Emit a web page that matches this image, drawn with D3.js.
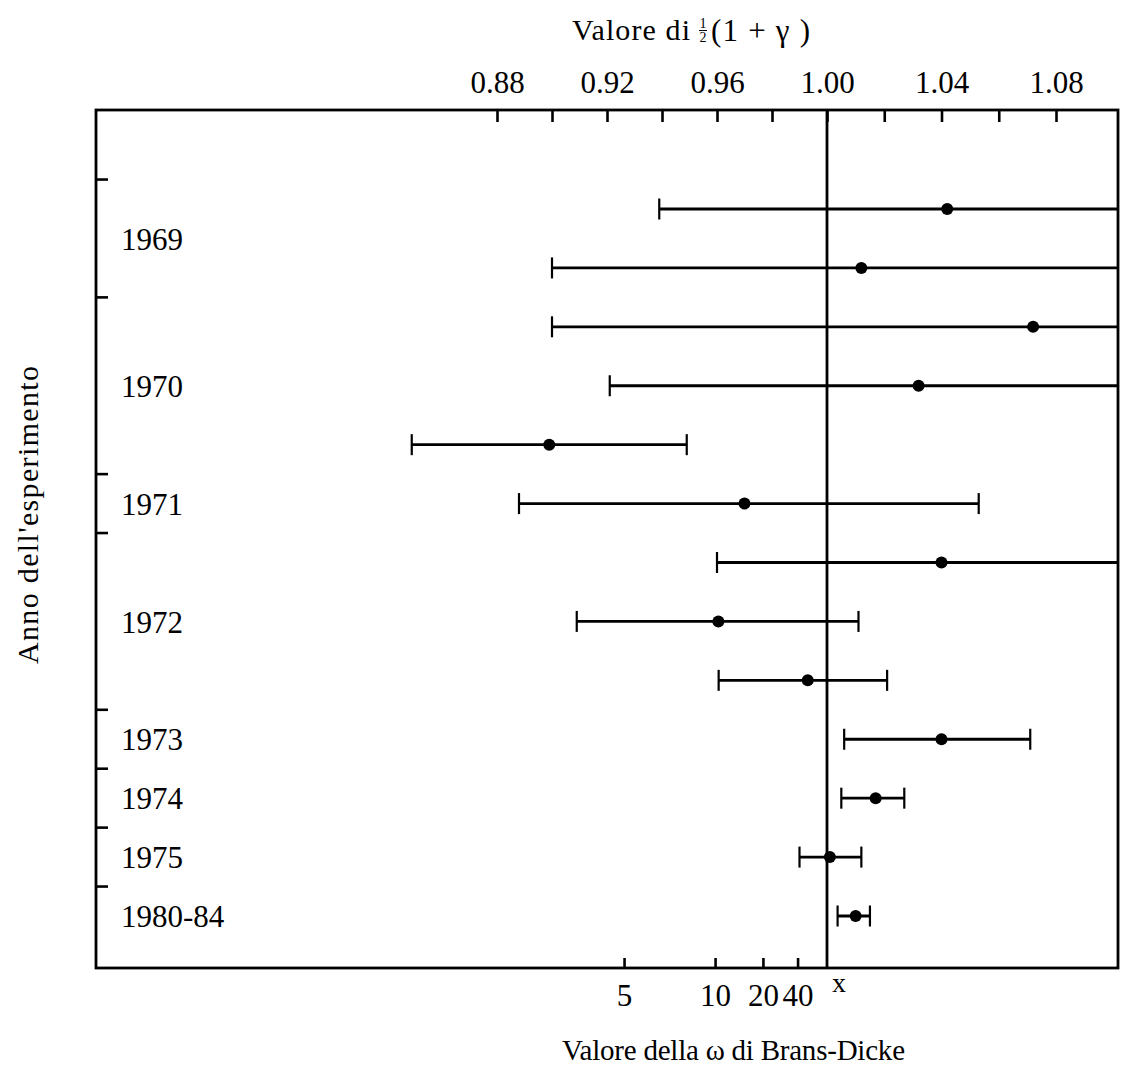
<!DOCTYPE html>
<html>
<head>
<meta charset="utf-8">
<script src="https://cdn.jsdelivr.net/npm/d3@7"></script>
<style>
  body { margin: 0; background: #fff; }
  text { font-family: "Liberation Serif", "DejaVu Serif", serif; fill: #000; }
</style>
</head>
<body>
<div id="chart"></div>
<script>
// Year of each experiment row, top to bottom
const rowYears = ["1969", "1969", "1970", "1970", "1970", "1971", "1972", "1972", "1972", "1973", "1974", "1975", "1980-84"];
// Values of 1/2(1+gamma): central value, lower and upper end (null = runs off the chart)
const centers = [1.042, 1.012, 1.072, 1.032, 0.899, 0.970, 1.040, 0.9605, 0.993, 1.040, 1.017, 1.001, 1.010];
const lows    = [0.939, 0.900, 0.900, 0.921, 0.849, 0.888, 0.960, 0.909, 0.9606, 1.006, 1.005, 0.990, 1.0037];
const highs   = [null, null, null, null, 0.949, 1.053, null, 1.011, 1.021, 1.071, 1.027, 1.012, 1.015];
// Axis ticks
const topTicks = [0.88, 0.90, 0.92, 0.94, 0.96, 0.98, 1.00, 1.02, 1.04, 1.06, 1.08];
const omegaTicks = [5, 10, 20, 40];
// where the omega ticks sit on the 1/2(1+gamma) scale, as printed
const omegaTickAt = [0.9262, 0.9593, 0.9767, 0.9893];

const W = 1124, H = 1081;
const frame = { left: 96, right: 1118, top: 110, bottom: 968 };
const ink = "#000";

const svg = d3.select("#chart").append("svg")
  .attr("width", W)
  .attr("height", H);

// Scales (the printed scale is slightly uneven either side of 1.00)
const x = d3.scaleLinear()
  .domain([0.88, 1.00, 1.08])
  .range([497, 827, 1056]);

const y = d3.scaleLinear()
  .domain([0, rowYears.length - 1])
  .range([209, 916]);

const rows = centers.map((c, i) => ({ i, year: rowYears[i], c, lo: lows[i], hi: highs[i] }));

// Top axis
const topAxis = svg.append("g")
  .attr("transform", `translate(0,${frame.top})`)
  .call(d3.axisTop(x)
    .tickValues(topTicks)
    .tickSize(-12)
    .tickPadding(17)
    .tickFormat(d => Math.round(d * 100) % 4 === 0 ? d.toFixed(2) : ""));
topAxis.select(".domain").remove();
topAxis.selectAll("line").attr("stroke", ink).attr("stroke-width", 2.6);
topAxis.selectAll("text").style("font-size", "31px");

// Bottom axis: Brans-Dicke omega
const bottomAxis = svg.append("g")
  .attr("transform", `translate(0,${frame.bottom})`)
  .call(d3.axisBottom(x)
    .tickValues(omegaTickAt)
    .tickSize(-10)
    .tickPadding(16)
    .tickFormat((d, i) => omegaTicks[i]));
bottomAxis.select(".domain").remove();
bottomAxis.selectAll("line").attr("stroke", ink).attr("stroke-width", 2.6);
bottomAxis.selectAll("text").style("font-size", "31px");

svg.append("text")
  .attr("x", x(1.00) + 12)
  .attr("y", frame.bottom + 24)
  .attr("text-anchor", "middle")
  .style("font-size", "28px")
  .text("x");

// Left axis: year groups
const groups = d3.groups(rows, d => d.year).map(([year, v]) => ({
  year,
  first: d3.min(v, d => d.i),
  last: d3.max(v, d => d.i)
}));
const boundaries = [groups[0].first - 0.5].concat(groups.slice(0, -1).map(g => g.last + 0.5));

svg.append("g")
  .selectAll("line")
  .data(boundaries)
  .enter()
  .append("line")
  .attr("x1", frame.left)
  .attr("x2", frame.left + 12)
  .attr("y1", d => y(d))
  .attr("y2", d => y(d))
  .attr("stroke", ink)
  .attr("stroke-width", 2.6);

svg.append("g")
  .selectAll("text")
  .data(groups)
  .enter()
  .append("text")
  .attr("x", 121)
  .attr("y", d => y((d.first + d.last) / 2) + 4)
  .attr("dominant-baseline", "middle")
  .style("font-size", "31px")
  .text(d => d.year);

// Frame
svg.append("rect")
  .attr("x", frame.left)
  .attr("y", frame.top)
  .attr("width", frame.right - frame.left)
  .attr("height", frame.bottom - frame.top)
  .attr("fill", "none")
  .attr("stroke", ink)
  .attr("stroke-width", 2.8);

// Reference line at 1.00
svg.append("line")
  .attr("x1", x(1.00))
  .attr("x2", x(1.00))
  .attr("y1", frame.top)
  .attr("y2", frame.bottom)
  .attr("stroke", ink)
  .attr("stroke-width", 2.8);

// Error bars
const bars = svg.append("g");
bars.selectAll("line.bar")
  .data(rows)
  .enter()
  .append("line")
  .attr("class", "bar")
  .attr("x1", d => x(d.lo))
  .attr("x2", d => d.hi === null ? frame.right : x(d.hi))
  .attr("y1", d => y(d.i))
  .attr("y2", d => y(d.i))
  .attr("stroke", ink)
  .attr("stroke-width", 2.8);

const caps = rows.flatMap(d => d.hi === null ? [{ v: d.lo, i: d.i }] : [{ v: d.lo, i: d.i }, { v: d.hi, i: d.i }]);
bars.selectAll("line.cap")
  .data(caps)
  .enter()
  .append("line")
  .attr("class", "cap")
  .attr("x1", d => x(d.v))
  .attr("x2", d => x(d.v))
  .attr("y1", d => y(d.i) - 10.5)
  .attr("y2", d => y(d.i) + 10.5)
  .attr("stroke", ink)
  .attr("stroke-width", 2.2);

bars.selectAll("circle")
  .data(rows)
  .enter()
  .append("circle")
  .attr("cx", d => x(d.c))
  .attr("cy", d => y(d.i))
  .attr("r", 6)
  .attr("fill", ink);

// Top title with stacked 1/2
svg.append("text")
  .attr("x", 572)
  .attr("y", 40)
  .attr("textLength", 118)
  .attr("lengthAdjust", "spacing")
  .style("font-size", "30px")
  .text("Valore di");
const fracX = 703;
svg.append("text").attr("x", fracX).attr("y", 28).attr("text-anchor", "middle")
  .style("font-size", "14px").text("1");
svg.append("line").attr("x1", fracX - 4).attr("x2", fracX + 4).attr("y1", 30.5).attr("y2", 30.5)
  .attr("stroke", ink).attr("stroke-width", 1);
svg.append("text").attr("x", fracX).attr("y", 42).attr("text-anchor", "middle")
  .style("font-size", "14px").text("2");
svg.append("text")
  .attr("x", 711)
  .attr("y", 41)
  .attr("textLength", 99)
  .attr("lengthAdjust", "spacing")
  .style("font-size", "31px")
  .text("(1 + γ )");

// Bottom title
svg.append("text")
  .attr("x", 562)
  .attr("y", 1060)
  .attr("textLength", 343)
  .attr("lengthAdjust", "spacing")
  .style("font-size", "29px")
  .text("Valore della ω di Brans-Dicke");

// Left title
svg.append("text")
  .attr("transform", "translate(38,515) rotate(-90)")
  .attr("text-anchor", "middle")
  .attr("textLength", 298)
  .attr("lengthAdjust", "spacing")
  .style("font-size", "30px")
  .text("Anno dell'esperimento");
</script>
</body>
</html>
